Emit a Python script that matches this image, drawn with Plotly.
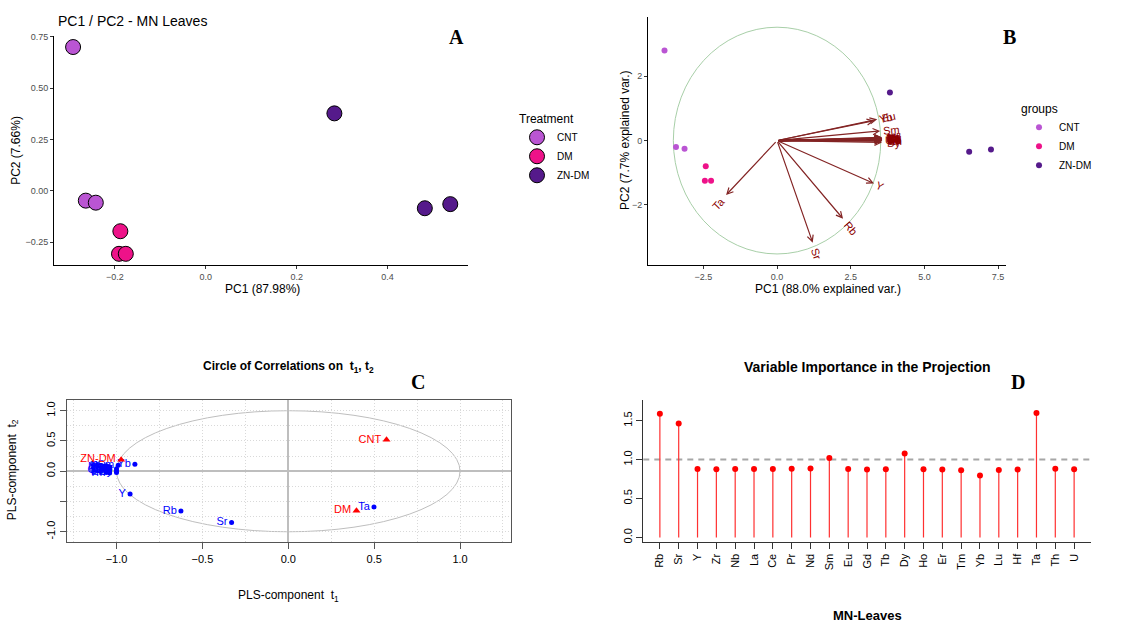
import math
import plotly.graph_objects as go

W, H = 1136, 628

# ---------------- data ----------------
groups = ["CNT", "DM", "ZN-DM"]
group_colors = ["#BA55D3", "#EE1289", "#551A8B"]
sample_groups = ["CNT", "CNT", "CNT", "DM", "DM", "DM", "ZN-DM", "ZN-DM", "ZN-DM"]

# Panel A: PCA scores
a_pc1 = [-0.292, -0.264, -0.242, -0.188, -0.191, -0.176, 0.283, 0.482, 0.538]
a_pc2 = [0.700, -0.048, -0.058, -0.197, -0.307, -0.307, 0.377, -0.085, -0.065]

# Panel B: biplot scores
b_pc1 = [-3.82, -3.43, -3.14, -2.42, -2.45, -2.24, 3.83, 6.52, 7.26]
b_pc2 = [2.80, -0.20, -0.25, -0.80, -1.25, -1.25, 1.49, -0.35, -0.28]

elements = ["Rb", "Sr", "Y", "Zr", "Nb", "La", "Ce", "Pr", "Nd", "Sm", "Eu", "Gd",
            "Tb", "Dy", "Ho", "Er", "Tm", "Yb", "Lu", "Hf", "Ta", "Th", "U"]
# Panel B: loading arrows
load_x = [2.24, 1.21, 3.29, 3.56, 3.55, 3.57, 3.57, 3.57, 3.56, 3.50, 3.40, 3.57,
          3.57, 3.56, 3.57, 3.57, 3.56, 3.30, 3.56, 3.56, -1.73, 3.57, 3.56]
load_y = [-2.43, -3.17, -1.33, 0.04, 0.06, 0.08, 0.05, 0.07, 0.09, 0.30, 0.66, 0.03,
          0.02, -0.06, 0.01, 0.00, -0.02, 0.62, 0.05, 0.10, -1.69, 0.06, 0.03]
circle_r = 3.52

# Panel C: correlations with PLS components
c_x = [-0.625, -0.330, -0.921, -1.05, -1.06, -1.04, -1.05, -1.06, -1.04, -0.99, -1.00, -1.06,
       -1.04, -1.00, -1.05, -1.06, -1.04, -0.893, -1.05, -1.00, 0.499, -1.06, -1.05]
c_y = [-0.656, -0.847, -0.377, 0.03, 0.06, 0.02, 0.00, 0.09, 0.07, 0.10, 0.04, 0.01,
       0.05, -0.02, 0.08, -0.02, -0.03, 0.115, 0.05, 0.01, -0.590, 0.04, 0.02]
resp_names = ["CNT", "DM", "ZN-DM"]
resp_x = [0.572, 0.397, -0.973]
resp_y = [0.519, -0.651, 0.190]

# Panel D: VIP
vip = [1.59, 1.463, 0.88, 0.876, 0.88, 0.88, 0.88, 0.883, 0.886, 1.02, 0.88, 0.872,
       0.876, 1.08, 0.876, 0.872, 0.864, 0.795, 0.868, 0.872, 1.60, 0.883, 0.876]

# ---------------- layout geometry (pixels) ----------------
A_px = (54, 468, 32, 263)
B_px = (648, 1006, 13, 263)
C_px = (66.7, 510.7, 399.3, 542.7)
D_px = (643.3, 1090.7, 399.3, 542.7)


def xd(p):
    return [p[0] / W, p[1] / W]


def yd(p):
    return [1 - p[3] / H, 1 - p[2] / H]


A_xr, A_yr = [-0.334, 0.577], [-0.361, 0.755]
B_xr, B_yr = [-4.38, 7.77], [-3.86, 3.84]
C_xr, C_yr = [-1.29, 1.295], [-1.175, 1.175]
D_xr, D_yr = [-0.88, 22.88], [-0.064, 1.765]

fig = go.Figure()

SANS = "Liberation Sans, Arial, sans-serif"

# ---- Panel A ----
for g, col in zip(groups, group_colors):
    xs = [x for x, s in zip(a_pc1, sample_groups) if s == g]
    ys = [y for y, s in zip(a_pc2, sample_groups) if s == g]
    fig.add_trace(go.Scatter(x=xs, y=ys, mode="markers", name=g, legend="legend",
                             marker=dict(size=15, color=col, line=dict(color="black", width=1)),
                             xaxis="x", yaxis="y"))

# ---- Panel B ----
for g, col in zip(groups, group_colors):
    xs = [x for x, s in zip(b_pc1, sample_groups) if s == g]
    ys = [y for y, s in zip(b_pc2, sample_groups) if s == g]
    fig.add_trace(go.Scatter(x=xs, y=ys, mode="markers", name=g, legend="legend2",
                             marker=dict(size=6, color=col),
                             xaxis="x2", yaxis="y2"))

annotations = []
kx = (B_px[1] - B_px[0]) / (B_xr[1] - B_xr[0])
ky = (B_px[3] - B_px[2]) / (B_yr[1] - B_yr[0])
for name, lx, ly in zip(elements, load_x, load_y):
    annotations.append(dict(x=lx, y=ly, ax=0, ay=0, xref="x2", yref="y2", axref="x2", ayref="y2",
                            text="", showarrow=True, arrowhead=5, arrowsize=1.0, arrowwidth=1.2,
                            arrowcolor="#832424", standoff=0, startstandoff=0))
for name, lx, ly in zip(elements, load_x, load_y):
    dxp, dyp = lx * kx, ly * ky
    L = math.hypot(dxp, dyp)
    ux, uy = dxp / L, dyp / L
    w = 6.5 * len(name)
    d = 0.75 * w + 2
    cx = lx + ux * d / kx
    cy = ly + uy * d / ky
    ang = math.degrees(math.atan(dyp / dxp))
    annotations.append(dict(x=cx, y=cy, xref="x2", yref="y2", text=name, showarrow=False,
                            textangle=-ang, xanchor="center", yanchor="middle",
                            font=dict(size=11, color="#8B0000", family=SANS)))

# ---- Panel C ----
fig.add_trace(go.Scatter(x=c_x, y=c_y, mode="markers+text", text=elements,
                         textposition="middle left", showlegend=False,
                         textfont=dict(color="#0000FF", size=11, family=SANS),
                         marker=dict(size=5, color="#0000FF"),
                         xaxis="x3", yaxis="y3"))
fig.add_trace(go.Scatter(x=resp_x, y=resp_y, mode="markers+text", text=resp_names,
                         textposition="middle left", showlegend=False,
                         textfont=dict(color="#FF0000", size=11, family=SANS),
                         marker=dict(size=7, color="#FF0000", symbol="triangle-up"),
                         xaxis="x3", yaxis="y3"))

# ---- Panel D ----
stem_x, stem_y = [], []
for e, v in zip(elements, vip):
    stem_x += [e, e, None]
    stem_y += [0, v, None]
fig.add_trace(go.Scatter(x=stem_x, y=stem_y, mode="lines", showlegend=False,
                         line=dict(color="#FF3030", width=1.2), xaxis="x4", yaxis="y4"))
fig.add_trace(go.Scatter(x=elements, y=vip, mode="markers", showlegend=False,
                         marker=dict(size=6, color="#FF0000"), xaxis="x4", yaxis="y4"))

shapes = [
    dict(type="circle", xref="x2", yref="y2", x0=-circle_r, x1=circle_r, y0=-circle_r, y1=circle_r,
         line=dict(color="#A8CFA8", width=1), layer="below"),
    dict(type="circle", xref="x3", yref="y3", x0=-1, x1=1, y0=-1, y1=1,
         line=dict(color="#BEBEBE", width=1), layer="below"),
    dict(type="line", xref="x4 domain", yref="y4", x0=0, x1=1, y0=1, y1=1,
         line=dict(color="#A6A6A6", width=2, dash="6px,5px"), layer="below"),
]

# ---- text annotations ----
def ann(x, y, text, size, color="black", family=SANS, angle=0, xanchor="center", yanchor="middle"):
    annotations.append(dict(x=x / W, y=1 - y / H, xref="paper", yref="paper", text=text,
                            showarrow=False, textangle=angle, xanchor=xanchor, yanchor=yanchor,
                            font=dict(size=size, color=color, family=family)))

SERIF = "Liberation Serif, Times New Roman, serif"
ann(56, 17, "PC1 / PC2 - MN Leaves", 14, xanchor="left")
ann(262, 287, "PC1 (87.98%)", 12)
ann(16, 148, "PC2 (7.66%)", 12, angle=-90)
ann(828, 287, "PC1 (88.0% explained var.)", 12)
ann(625, 138, "PC2 (7.7% explained var.)", 12, angle=-90)
ann(288.7, 366, "<b>Circle of Correlations on  t<sub>1</sub>, t<sub>2</sub></b>", 12)
ann(288.7, 597, "PLS-component  t<sub>1</sub>", 12)
ann(13, 470, "PLS-component  t<sub>2</sub>", 12, angle=-90)
ann(867, 366, "<b>Variable Importance in the Projection</b>", 14)
ann(867, 616, "<b>MN-Leaves</b>", 13)
ann(456, 33, "<b>A</b>", 20, family=SERIF)
ann(1009, 33, "<b>B</b>", 20, family=SERIF)
ann(418, 381, "<b>C</b>", 20, family=SERIF)
ann(1018, 381, "<b>D</b>", 20, family=SERIF)

gg_axis = dict(showline=True, linecolor="black", linewidth=1, ticks="outside", ticklen=3,
               tickcolor="#333333", tickfont=dict(size=9, color="#4D4D4D", family=SANS),
               showgrid=False, zeroline=False)
r_box = dict(showline=True, linecolor="#555555", linewidth=1, mirror=True, ticks="outside",
             ticklen=6, tickcolor="#555555", tickfont=dict(size=11, color="black", family=SANS),
             showgrid=True, gridcolor="#D9D9D9", griddash="1px,2px", gridwidth=1,
             zeroline=True, zerolinecolor="#BEBEBE", zerolinewidth=2,
             minor=dict(dtick=0.25, showgrid=True, gridcolor="#D9D9D9", griddash="1px,2px",
                        gridwidth=1))

fig.update_layout(
    width=W, height=H, margin=dict(l=0, r=0, t=0, b=0),
    paper_bgcolor="white", plot_bgcolor="white",
    font=dict(family=SANS),
    xaxis=dict(domain=xd(A_px), range=A_xr, tickvals=[-0.2, 0.0, 0.2, 0.4], tickformat=".1f",
               anchor="y", **gg_axis),
    yaxis=dict(domain=yd(A_px), range=A_yr, tickvals=[-0.25, 0, 0.25, 0.5, 0.75], tickformat=".2f",
               anchor="x", **gg_axis),
    xaxis2=dict(domain=xd(B_px), range=B_xr, tickvals=[-2.5, 0, 2.5, 5, 7.5], tickformat=".1f",
                anchor="y2", **gg_axis),
    yaxis2=dict(domain=yd(B_px), range=B_yr, tickvals=[-2, 0, 2], anchor="x2", **gg_axis),
    xaxis3=dict(domain=xd(C_px), range=C_xr, tickvals=[-1, -0.5, 0, 0.5, 1], tickformat=".1f",
                anchor="y3", **r_box),
    yaxis3=dict(domain=yd(C_px), range=C_yr, tickvals=[-1, -0.5, 0, 0.5, 1],
                ticktext=["-1.0", "", "0.0", "0.5", "1.0"], tickangle=-90, anchor="x3", **r_box),
    xaxis4=dict(domain=xd(D_px), range=D_xr, type="category", anchor="y4", showline=True,
                linecolor="#333333", linewidth=1, ticks="outside", ticklen=6, tickcolor="#333333",
                tickangle=-90, tickfont=dict(size=11, color="black", family=SANS), showgrid=False,
                zeroline=False),
    yaxis4=dict(domain=yd(D_px), range=D_yr, tickvals=[0, 0.5, 1.0, 1.5], tickformat=".1f",
                tickangle=-90, anchor="x4", showline=True, linecolor="#333333", linewidth=1,
                ticks="outside", ticklen=6, tickcolor="#333333",
                tickfont=dict(size=11, color="black", family=SANS), showgrid=False, zeroline=False),
    legend=dict(x=517 / W, y=1 - 104 / H, xanchor="left", yanchor="top",
                title=dict(text="Treatment", font=dict(size=12, color="black")),
                font=dict(size=10, color="black"), bgcolor="rgba(0,0,0,0)", itemsizing="trace",
                tracegroupgap=0),
    legend2=dict(x=1019 / W, y=1 - 94 / H, xanchor="left", yanchor="top",
                 title=dict(text="groups", font=dict(size=12, color="black")),
                 font=dict(size=10, color="black"), bgcolor="rgba(0,0,0,0)", itemsizing="trace",
                 tracegroupgap=0),
    annotations=annotations,
    shapes=shapes,
)

fig.write_html("out.html")
